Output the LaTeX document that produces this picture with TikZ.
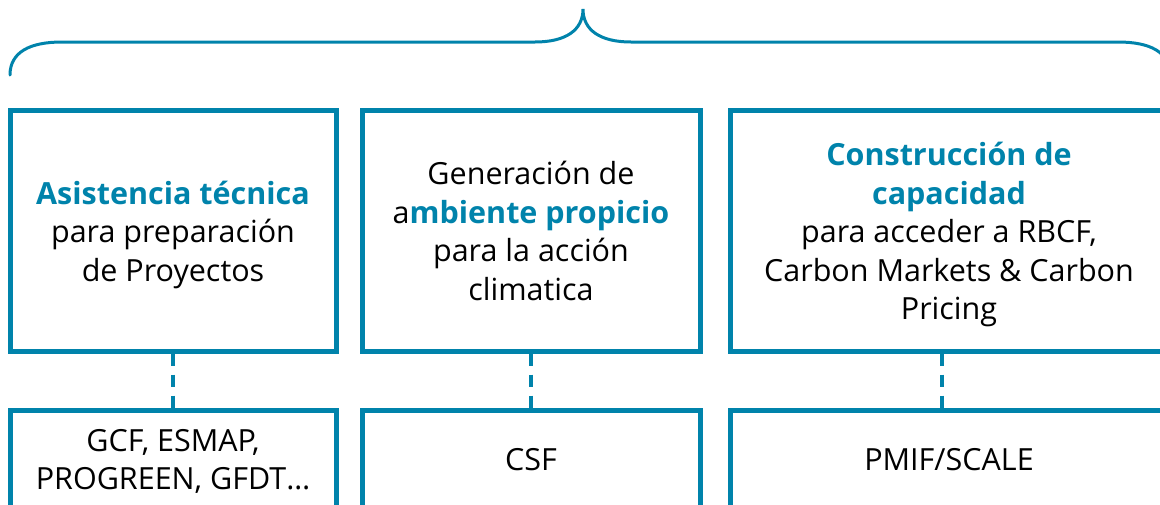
\documentclass[tikz,border=0pt]{standalone}
\usepackage{fontspec}
\setmainfont{Open Sans}
\usetikzlibrary{positioning}
\definecolor{marco}{HTML}{0083AB}
\newcommand{\resalta}[1]{{\bfseries\color{marco}#1}}
\newcommand{\altoA}{\rule{0pt}{33pt}}
\newcommand{\altoB}{\rule{0pt}{27pt}}
\tikzset{
  caja/.style={draw=marco, line width=5pt, align=center, inner sep=0pt,
    font=\fontsize{30.5}{38.5}\selectfont,
    execute at end node={\rule[-9pt]{0pt}{9pt}}},
  cajaalta/.style={caja, minimum height=241pt},
  cajabaja/.style={caja, minimum height=102pt},
  enlace/.style={draw=marco, line width=4pt, dash pattern=on 12pt off 9pt},
  llave/.style={draw=marco, line width=3pt, line cap=round}
}
\begin{document}
\begin{tikzpicture}[x=1pt, y=-1pt]
  \useasboundingbox (0,0) rectangle (1160,504);
  \clip (0,0) rectangle (1160,504);
  % llave superior
  \path[llave] (10,75) .. controls (10,52) and (30,42) .. (62,42) -- (535,42)
    .. controls (566,42) and (583,30) .. (583,9)
    .. controls (583,30) and (600,42) .. (631,42) -- (1118,42)
    .. controls (1150,42) and (1170,52) .. (1170,75);
  % cajas de arriba
  \node[cajaalta, minimum width=326pt] (asist) at (173,230.5)
    {\altoA\resalta{Asistencia técnica}\\para preparación\\de Proyectos};
  \node[cajaalta, minimum width=338pt] (ambiente) at (531,230.5)
    {\altoA Generación de\\a\resalta{mbiente propicio}\\para la acción\\climatica};
  \node[cajaalta, minimum width=438pt] (capac) at (949,230.5)
    {\altoA\resalta{Construcción de}\\\resalta{capacidad}\\para acceder a RBCF,\\Carbon Markets \& Carbon\\Pricing};
  % cajas de abajo
  \node[cajabaja, minimum width=326pt, anchor=north] (fondos) at (173,408)
    {\altoB GCF, ESMAP,\\PROGREEN, GFDT…};
  \node[cajabaja, minimum width=338pt, anchor=north] (csf) at (531,408) {\altoB CSF};
  \node[cajabaja, minimum width=438pt, anchor=north] (pmif) at (949,408) {\altoB PMIF/SCALE};
  % enlaces
  \draw[enlace] (asist) -- (fondos);
  \draw[enlace] (ambiente) -- (csf);
  \draw[enlace] ([xshift=-7pt]capac.south) -- ([xshift=-7pt]pmif.north);
\end{tikzpicture}
\end{document}
